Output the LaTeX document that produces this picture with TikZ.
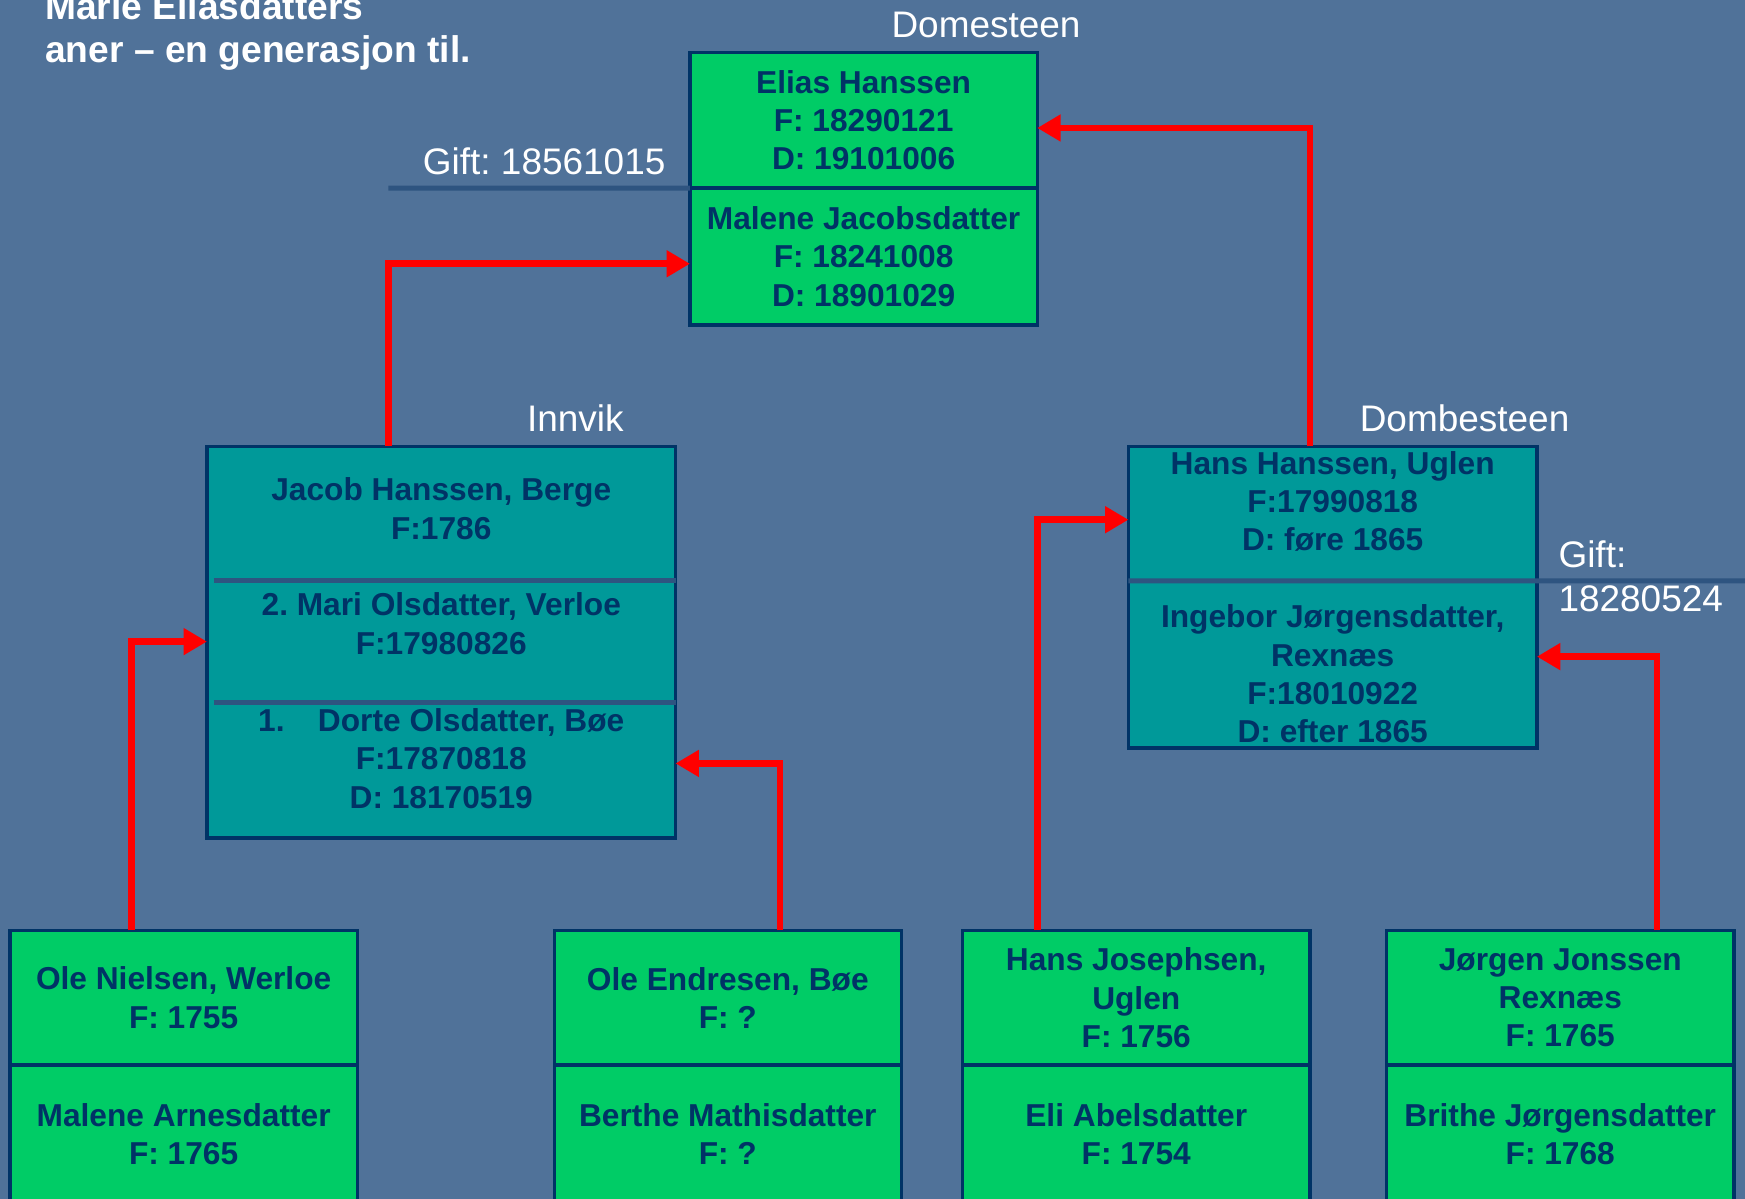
\documentclass[tikz,border=0pt]{standalone}
\usepackage{fontspec}
\setmainfont{Liberation Sans}
\usetikzlibrary{arrows.meta,positioning}
\definecolor{slidebg}{RGB}{80,114,153}
\definecolor{famgreen}{RGB}{0,204,102}
\definecolor{famteal}{RGB}{0,153,153}
\definecolor{famnavy}{RGB}{0,51,102}
\definecolor{divblue}{RGB}{46,84,128}
\frenchspacing

\begin{document}
\begin{tikzpicture}[>={Triangle[length=2.1mm,width=2.3mm]}, node distance=0pt,
    every node/.style={font=\fontsize{8.1}{9.8}\selectfont\bfseries, text=famnavy, align=center},
    greenbox/.style={draw=famnavy, line width=0.85pt, fill=famgreen, outer sep=0pt, inner sep=0pt, minimum width=3.12cm},
    tealpart/.style={fill=famteal, outer sep=0pt, inner sep=0pt},
    boxline/.style={draw=famnavy, line width=0.85pt},
    divline/.style={draw=divblue, line width=1.3pt},
    lbl/.style={font=\fontsize{9.45}{11.2}\selectfont, text=white},
    famarrow/.style={->, draw=red, line width=1.7pt, line join=miter}]

    \useasboundingbox (0,0) rectangle (15.68,-10.77);
    \clip (0,0) rectangle (15.68,-10.77);
    \fill[slidebg] (0,0) rectangle (15.68,-10.77);

    % title and place names
    \node[lbl, font=\fontsize{9.5}{11.1}\selectfont\bfseries, anchor=north west, align=left, inner sep=0pt] (title) at (0.40,0.075) {Marie Eliasdatters\\aner – en generasjon til.};
    \node[lbl] (domesteen)  at (8.86,-0.22)  {Domesteen};
    \node[lbl] (innvik)     at (5.17,-3.76)  {Innvik};
    \node[lbl] (dombesteen) at (13.16,-3.76) {Dombesteen};
    \node[lbl] (gift1)      at (4.89,-1.45)  {Gift: 18561015};
    \node[lbl, align=left, anchor=west] (gift2) at (13.88,-5.175) {Gift:\\18280524};

    % parents
    \node[greenbox, minimum height=1.22cm] (elias) at (7.76,-1.08) {Elias Hanssen\\F: 18290121\\D: 19101006};
    \node[greenbox, minimum height=1.23cm, below=of elias] (malene) {Malene Jacobsdatter\\F: 18241008\\D: 18901029};

    % grandparents
    \node[tealpart, minimum width=4.21cm, minimum height=1.21cm] (jacob) at (3.965,-4.615) {};
    \node[tealpart, minimum width=4.21cm, minimum height=1.09cm, below=of jacob] (mari) {};
    \node[tealpart, minimum width=4.21cm, minimum height=1.22cm, below=of mari] (dorte) {};
    \draw[boxline] (jacob.north west) rectangle (dorte.south east);
    \draw[divline] ([xshift=0.06cm]mari.north west) -- (mari.north east);
    \draw[divline] ([xshift=0.06cm]dorte.north west) -- (dorte.north east);
    \node (jacobtxt) at ([yshift=0.045cm]jacob.center) {Jacob Hanssen, Berge\\F:1786};
    \node (maritxt)  at ([yshift=0.16cm]mari.center)   {2. Mari Olsdatter, Verloe\\F:17980826};
    \node (dortetxt) at ([yshift=0.105cm]dorte.center) {1.\hspace{0.3cm}Dorte Olsdatter, Bøe\\F:17870818\\D: 18170519};

    \node[tealpart, minimum width=3.67cm, minimum height=1.21cm] (hans) at (11.975,-4.615) {};
    \node[tealpart, minimum width=3.67cm, minimum height=1.50cm, below=of hans] (ingebor) {};
    \draw[boxline] (hans.north west) rectangle (ingebor.south east);
    \node (hanstxt)    at ([yshift=0.11cm]hans.center)     {Hans Hanssen, Uglen\\F:17990818\\D: føre 1865};
    \node (ingebortxt) at ([yshift=-0.085cm]ingebor.center) {Ingebor Jørgensdatter,\\Rexnæs\\F:18010922\\D: efter 1865};

    % marriage lines
    \coordinate (giftA) at (3.49,-1.69);
    \coordinate (giftB) at (15.68,-5.22);
    \draw[divline] (giftA) -- (elias.south west);
    \draw[divline] (hans.south west) -- (giftB);

    % great-grandparents
    \node[greenbox, minimum height=1.21cm] (olen) at (1.65,-8.965) {Ole Nielsen, Werloe\\F: 1755};
    \node[greenbox, minimum height=1.24cm, below=of olen] (malenea) {Malene Arnesdatter\\F: 1765};
    \node[greenbox, minimum height=1.21cm] (oleend) at (6.54,-8.965) {Ole Endresen, Bøe\\F: ?};
    \node[greenbox, minimum height=1.24cm, below=of oleend] (berthe) {Berthe Mathisdatter\\F: ?};
    \node[greenbox, minimum height=1.21cm] (hansj) at (10.21,-8.965) {Hans Josephsen,\\Uglen\\F: 1756};
    \node[greenbox, minimum height=1.24cm, below=of hansj] (eli) {Eli Abelsdatter\\F: 1754};
    \node[greenbox, minimum height=1.21cm] (jorgen) at (14.02,-8.965) {Jørgen Jonssen\\Rexnæs\\F: 1765};
    \node[greenbox, minimum height=1.24cm, below=of jorgen] (brithe) {Brithe Jørgensdatter\\F: 1768};

    % descent arrows
    \draw[famarrow] ([xshift=-0.475cm]jacob.north) |- ([yshift=-0.065cm]malene.west);
    \draw[famarrow] ([xshift=-0.205cm]hans.north) |- ([yshift=-0.07cm]elias.east);
    \draw[famarrow] ([xshift=-0.47cm]olen.north) |- (mari.west);
    \draw[famarrow] ([xshift=0.47cm]oleend.north) |- ([yshift=0.06cm]dorte.east);
    \draw[famarrow] ([xshift=-0.89cm]hansj.north) |- ([yshift=-0.055cm]hans.west);
    \draw[famarrow] ([xshift=0.87cm]jorgen.north) |- ([yshift=0.07cm]ingebor.east);
\end{tikzpicture}
\end{document}
